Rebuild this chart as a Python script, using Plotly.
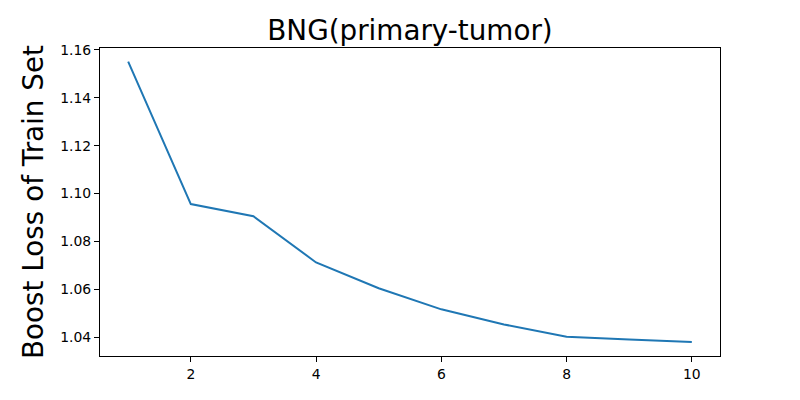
import plotly.graph_objects as go

# boosting rounds and train-set loss
rounds = [1, 2, 3, 4, 5, 6, 7, 8, 9, 10]
train_loss = [1.1551, 1.0956, 1.0905, 1.0712, 1.0604, 1.0516, 1.0453, 1.0401, 1.0390, 1.0380]

x_ticks = [2, 4, 6, 8, 10]
y_ticks = [1.04, 1.06, 1.08, 1.10, 1.12, 1.14, 1.16]

fig = go.Figure(go.Scatter(
    x=rounds, y=train_loss, mode="lines",
    line=dict(color="#1f77b4", width=2),
))

axis_style = dict(
    showline=True, linecolor="black", linewidth=1, mirror=True,
    ticks="outside", ticklen=5, tickcolor="black", tickwidth=1,
    showgrid=False, zeroline=False, automargin=False,
    tickfont=dict(family="DejaVu Sans", size=13.9, color="black"),
)

# the page body adds an 8px offset, so margins are shifted to compensate
fig.update_layout(
    width=800, height=400,
    margin=dict(l=92, r=88, t=40, b=52, autoexpand=False),
    paper_bgcolor="white", plot_bgcolor="white",
    showlegend=False,
    title=dict(text="BNG(primary-tumor)", x=0.5025, xanchor="center",
               y=0.945, yanchor="middle",
               font=dict(family="DejaVu Sans", size=27.8, color="black")),
)
fig.update_xaxes(range=[0.55, 10.45], tickvals=x_ticks, **axis_style)
fig.update_yaxes(range=[1.0321, 1.1608], tickvals=y_ticks,
                 ticktext=[f"{v:.2f}" for v in y_ticks],
                 title=dict(text="Boost Loss of Train Set", standoff=8,
                            font=dict(family="DejaVu Sans", size=27.8, color="black")),
                 **axis_style)

fig.write_html("out.html")
